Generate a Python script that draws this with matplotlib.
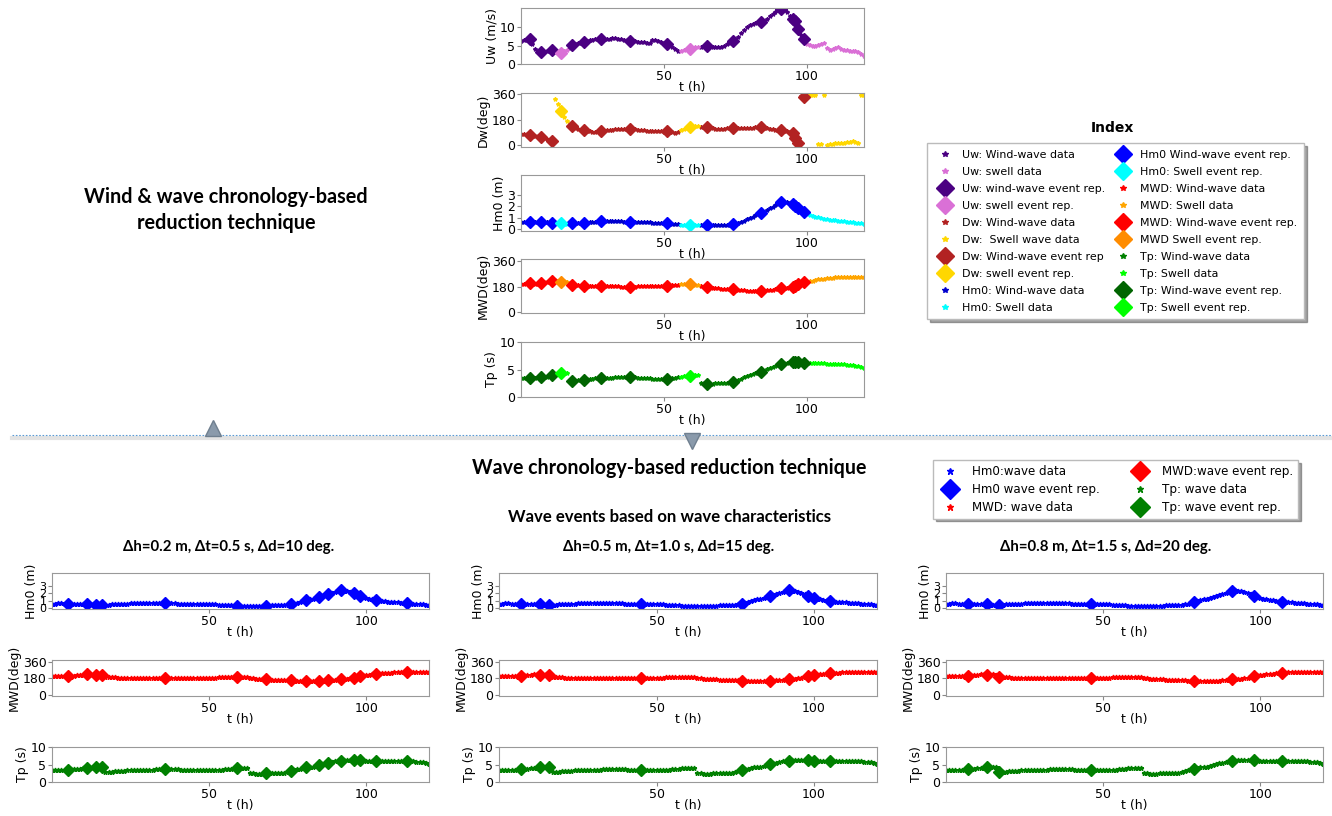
import numpy as np
import matplotlib.pyplot as plt
from matplotlib.lines import Line2D

# hourly series (t = 0 .. 120 h)
hours = np.arange(121)

uw = [6.3, 6.5, 6.6, 6.7, 5.4, 4.2, 3.5, 3.2, 3.2, 3.4,
      3.6, 3.7, 3.2, 2.9, 2.9, 3.4, 3.9, 4.4, 5.2, 5.5,
      5.6, 5.8, 6.0, 6.2, 6.4, 6.6, 6.8, 6.9, 6.9, 6.8,
      6.8, 6.9, 7.0, 7.0, 6.9, 6.8, 6.6, 6.5, 6.3, 6.2,
      6.2, 6.1, 6.0, 5.9, 5.8, 5.7, 6.5, 6.4, 6.2, 6.0,
      5.7, 5.5, 5.1, 4.6, 4.0, 3.6, 3.6, 3.9, 4.2, 4.1,
      4.3, 4.5, 4.6, 4.7, 4.9, 5.0, 4.9, 4.7, 4.5, 4.5,
      4.6, 4.9, 5.3, 5.8, 6.2, 6.6, 7.4, 8.3, 9.2, 10.0,
      10.6, 10.9, 11.1, 11.3, 11.4, 11.8, 12.3, 12.9, 13.5, 14.1,
      14.6, 14.9, 14.8, 14.2, 13.0, 12.1, 11.6, 9.5, 8.0, 6.8,
      5.3, 5.1, 5.0, 4.9, 5.1, 5.4, 5.6, 4.4, 3.9, 4.1,
      4.4, 4.5, 4.2, 3.9, 3.7, 3.6, 3.5, 3.4, 3.2, 2.8,
      2.2]

dw = [80, 78, 75, 72, 66, 62, 64, 57, 48, 40,
      34, 30, 330, 290, 239, 200, 170, 150, 133, 122,
      113, 108, 104, 100, 98, 96, 96, 97, 98, 102,
      106, 108, 110, 111, 112, 112, 113, 114, 114, 112,
      111, 109, 107, 104, 101, 99, 97, 97, 98, 97,
      96, 97, 94, 90, 88, 95, 104, 113, 120, 126,
      130, 132, 133, 131, 129, 128, 126, 120, 115, 113,
      115, 117, 119, 120, 121, 121, 119, 118, 119, 120,
      122, 124, 125, 126, 126, 124, 121, 117, 112, 108,
      105, 104, 102, 98, 95, 85, 50, 12, 348, 339,
      352, 356, 358, 357, 4, 6, 357, 3, 8, 10,
      13, 15, 14, 18, 22, 25, 27, 22, 15, 356,
      355]

hm0 = [0.62, 0.63, 0.64, 0.64, 0.63, 0.62, 0.62, 0.63, 0.63, 0.61,
       0.59, 0.58, 0.55, 0.52, 0.50, 0.49, 0.49, 0.50, 0.50, 0.51,
       0.51, 0.52, 0.53, 0.56, 0.60, 0.64, 0.67, 0.69, 0.70, 0.70,
       0.70, 0.70, 0.70, 0.69, 0.68, 0.68, 0.67, 0.66, 0.65, 0.64,
       0.63, 0.62, 0.61, 0.60, 0.59, 0.59, 0.58, 0.58, 0.57, 0.56,
       0.55, 0.55, 0.52, 0.48, 0.45, 0.42, 0.40, 0.38, 0.36, 0.35,
       0.35, 0.34, 0.34, 0.34, 0.34, 0.35, 0.35, 0.35, 0.35, 0.36,
       0.37, 0.38, 0.39, 0.41, 0.43, 0.46, 0.52, 0.62, 0.75, 0.88,
       1.00, 1.10, 1.20, 1.30, 1.38, 1.50, 1.65, 1.80, 1.95, 2.10,
       2.22, 2.32, 2.38, 2.35, 2.28, 2.15, 2.00, 1.85, 1.68, 1.50,
       1.35, 1.25, 1.17, 1.10, 1.04, 0.98, 0.93, 0.88, 0.84, 0.80,
       0.77, 0.74, 0.71, 0.68, 0.65, 0.62, 0.59, 0.56, 0.53, 0.50,
       0.47]

mwd = [200, 201, 202, 203, 203, 200, 198, 205, 210, 214,
       218, 222, 224, 220, 215, 222, 212, 198, 191, 189,
       188, 187, 186, 186, 185, 185, 185, 186, 186, 186,
       185, 184, 183, 182, 181, 180, 179, 179, 179, 179,
       180, 181, 182, 183, 184, 185, 186, 186, 186, 186,
       186, 186, 187, 189, 191, 194, 196, 197, 196, 196,
       195, 192, 188, 184, 180, 177, 175, 173, 170, 168,
       166, 164, 163, 162, 161, 160, 158, 155, 153, 152,
       152, 151, 151, 151, 152, 152, 153, 155, 158, 161,
       164, 167, 170, 173, 176, 179, 186, 196, 203, 210,
       214, 218, 222, 226, 230, 234, 237, 240, 242, 244,
       245, 246, 247, 248, 249, 250, 250, 251, 251, 251,
       251]

tp = [3.5, 3.5, 3.4, 3.4, 3.4, 3.5, 3.6, 3.6, 3.6, 3.7,
      3.9, 4.0, 4.1, 4.2, 4.3, 4.3, 4.3, 3.0, 3.0, 3.0,
      3.1, 3.1, 3.15, 3.2, 3.3, 3.3, 3.4, 3.4, 3.45, 3.5,
      3.5, 3.5, 3.5, 3.6, 3.6, 3.6, 3.6, 3.6, 3.6, 3.6,
      3.6, 3.5, 3.5, 3.4, 3.4, 3.4, 3.3, 3.3, 3.3, 3.3,
      3.3, 3.3, 3.3, 3.4, 3.5, 3.6, 3.7, 3.8, 3.9, 3.9,
      4.0, 4.0, 4.0, 2.5, 2.5, 2.4, 2.4, 2.4, 2.5, 2.5,
      2.5, 2.6, 2.6, 2.7, 2.7, 2.9, 3.1, 3.3, 3.6, 3.8,
      4.0, 4.2, 4.3, 4.4, 4.5, 4.8, 5.1, 5.3, 5.5, 5.7,
      5.9, 6.0, 6.1, 6.2, 6.3, 6.3, 6.3, 6.3, 6.2, 6.2,
      6.1, 6.1, 6.1, 6.1, 6.1, 6.1, 6.1, 6.0, 6.0, 6.0,
      6.0, 6.0, 6.0, 6.0, 5.9, 5.9, 5.8, 5.7, 5.6, 5.4,
      5.2]

# hours classified as swell (start, end inclusive)
swell_spans = [(12, 16), (56, 62), (100, 120)]

# event representative hours
events_wind_wave = [3, 7, 11, 14, 18, 22, 28, 38, 51, 59, 65, 74, 84, 91, 95, 96, 97, 99]
events_dh02 = [5, 11, 14, 16, 36, 59, 68, 76, 81, 85, 88, 92, 96, 98, 103, 113]
events_dh05 = [7, 13, 16, 45, 77, 86, 92, 98, 100, 105]
events_dh08 = [7, 13, 17, 46, 79, 91, 98, 107]

threshold_titles = ['Δh=0.2 m, Δt=0.5 s, Δd=10 deg.',
                    'Δh=0.5 m, Δt=1.0 s, Δd=15 deg.',
                    'Δh=0.8 m, Δt=1.5 s, Δd=20 deg.']

W, H = 1332, 816
fig = plt.figure(figsize=(W / 100, H / 100), dpi=100)
TITLE_FONT = ['Lato', 'Noto Sans', 'DejaVu Sans']


def px_axes(x0, y0, x1, y1):
    return fig.add_axes([x0 / W, 1 - y1 / H, (x1 - x0) / W, (y1 - y0) / H])


def style_axes(ax, ylabel, ylim, yticks, ytick_size=9):
    ax.set_xlim(0, 120)
    ax.set_xticks([50, 100])
    ax.set_ylim(*ylim)
    ax.set_yticks(yticks)
    ax.set_xlabel('t (h)', fontsize=9, labelpad=-1)
    ax.set_ylabel(ylabel, fontsize=9, labelpad=1)
    ax.tick_params(labelsize=9, length=3, pad=1, color='#888888')
    ax.tick_params(axis='y', labelsize=ytick_size)
    for sp in ax.spines.values():
        sp.set_color('#999999')


t = hours
is_swell = np.zeros(len(t), dtype=bool)
for a, b in swell_spans:
    is_swell[(t >= a) & (t <= b)] = True

ev = np.array(events_wind_wave)
ev_swell = is_swell[ev]

# ---- upper block: wind & wave chronology ----
top_vars = [
    (uw, 'Uw (m/s)', (0, 15.2), [0, 5, 10], '#4b0082', 'orchid', '#4b0082', 'orchid', (8, 64)),
    (dw, 'Dw(deg)', (-14, 370), [0, 180, 360], 'firebrick', 'gold', 'firebrick', 'gold', (93, 147)),
    (hm0, 'Hm0 (m)', (-0.15, 4.7), [0, 1, 2, 3], 'mediumblue', 'cyan', 'blue', 'cyan', (175, 231)),
    (mwd, 'MWD(deg)', (-7, 375), [0, 180, 360], 'red', 'orange', 'red', 'darkorange', (259, 313)),
    (tp, 'Tp (s)', (0, 10), [0, 5, 10], 'green', 'lime', 'darkgreen', 'lime', (342, 397)),
]

for vals, ylab, ylim, yt, c_w, c_s, ce_w, ce_s, (y0, y1) in top_vars:
    v = np.array(vals, dtype=float)
    ax = px_axes(521, y0, 864, y1)
    ax.plot(t[~is_swell], v[~is_swell], ls='none', marker='*', ms=3, color=c_w)
    ax.plot(t[is_swell], v[is_swell], ls='none', marker='*', ms=3, color=c_s)
    ax.plot(ev[~ev_swell], v[ev[~ev_swell]], ls='none', marker='D', ms=6.5, color=ce_w)
    ax.plot(ev[ev_swell], v[ev[ev_swell]], ls='none', marker='D', ms=6.5, color=ce_s)
    style_axes(ax, ylab, ylim, yt)

fig.text(226 / W, 1 - 210 / H, 'Wind & wave chronology-based\nreduction technique',
         ha='center', va='center', fontsize=14.3, fontweight='bold',
         family=TITLE_FONT, linespacing=1.4)

# legend of the upper block
def data_h(c):
    return Line2D([], [], ls='none', marker='*', ms=4, color=c)


def event_h(c):
    return Line2D([], [], ls='none', marker='D', ms=9, color=c)


index_items = [
    (data_h('#4b0082'), 'Uw: Wind-wave data'),
    (data_h('orchid'), 'Uw: swell data'),
    (event_h('#4b0082'), 'Uw: wind-wave event rep.'),
    (event_h('orchid'), 'Uw: swell event rep.'),
    (data_h('firebrick'), 'Dw: Wind-wave data'),
    (data_h('gold'), 'Dw:  Swell wave data'),
    (event_h('firebrick'), 'Dw: Wind-wave event rep'),
    (event_h('gold'), 'Dw: swell event rep.'),
    (data_h('mediumblue'), 'Hm0: Wind-wave data'),
    (data_h('cyan'), 'Hm0: Swell data'),
    (event_h('blue'), 'Hm0 Wind-wave event rep.'),
    (event_h('cyan'), 'Hm0: Swell event rep.'),
    (data_h('red'), 'MWD: Wind-wave data'),
    (data_h('orange'), 'MWD: Swell data'),
    (event_h('red'), 'MWD: Wind-wave event rep.'),
    (event_h('darkorange'), 'MWD Swell event rep.'),
    (data_h('green'), 'Tp: Wind-wave data'),
    (data_h('lime'), 'Tp: Swell data'),
    (event_h('darkgreen'), 'Tp: Wind-wave event rep.'),
    (event_h('lime'), 'Tp: Swell event rep.'),
]
fig.legend([h for h, _ in index_items], [l for _, l in index_items],
           loc='upper left', bbox_to_anchor=(927 / W, 1 - 143 / H),
           ncol=2, fontsize=7.9, shadow=True, fancybox=False,
           borderaxespad=0, borderpad=0.6, labelspacing=0.64, columnspacing=0.6,
           handletextpad=0.6, handlelength=2.0, edgecolor='#bbbbbb')
fig.text(1112 / W, 1 - 128 / H, 'Index', ha='center', va='center',
         fontsize=10, fontweight='bold')

# divider between the two blocks
fig.add_artist(Line2D([12 / W, 1], [1 - 437.5 / H] * 2, transform=fig.transFigure,
                      color='#e3e3e3', lw=3))
fig.add_artist(Line2D([12 / W, 1], [1 - 435 / H] * 2, transform=fig.transFigure,
                      color='#5b9bd5', lw=0.8, ls=(0, (1.5, 1.5))))
fig.add_artist(Line2D([213 / W], [1 - 428 / H], transform=fig.transFigure,
                      marker='^', ms=12, color='#8a9aab', mec='#6f7f8f'))
fig.add_artist(Line2D([692 / W], [1 - 441 / H], transform=fig.transFigure,
                      marker='v', ms=12, color='#8a9aab', mec='#6f7f8f'))

# ---- lower block: wave chronology ----
fig.text(669 / W, 1 - 468 / H, 'Wave chronology-based reduction technique',
         ha='center', va='center', fontsize=14.1, fontweight='bold', family=TITLE_FONT)
fig.text(670 / W, 1 - 517 / H, 'Wave events based on wave characteristics',
         ha='center', va='center', fontsize=12.1, fontweight='bold', family=TITLE_FONT)

wave_items = [
    (Line2D([], [], ls='none', marker='*', ms=5, color='blue'), 'Hm0:wave data'),
    (Line2D([], [], ls='none', marker='D', ms=10, color='blue'), 'Hm0 wave event rep.'),
    (Line2D([], [], ls='none', marker='*', ms=5, color='red'), 'MWD: wave data'),
    (Line2D([], [], ls='none', marker='D', ms=10, color='red'), 'MWD:wave event rep.'),
    (Line2D([], [], ls='none', marker='*', ms=5, color='green'), 'Tp: wave data'),
    (Line2D([], [], ls='none', marker='D', ms=10, color='green'), 'Tp: wave event rep.'),
]
fig.legend([h for h, _ in wave_items], [l for _, l in wave_items],
           loc='upper left', bbox_to_anchor=(933 / W, 1 - 460 / H),
           ncol=2, fontsize=8.6, shadow=True, fancybox=False,
           borderaxespad=0, labelspacing=0.42, columnspacing=2.3,
           handletextpad=0.9, handlelength=2.0, edgecolor='#bbbbbb')

panel_x = [(52, 429), (499, 877), (946, 1323)]
title_x = [229, 669, 1106]
panel_events = [events_dh02, events_dh05, events_dh08]
bottom_vars = [
    (hm0, 'Hm0 (m)', (-0.1, 4.7), [0, 1, 2, 3], 'blue', (573, 609), 8),
    (mwd, 'MWD(deg)', (-15, 380), [0, 180, 360], 'red', (660, 696), 9),
    (tp, 'Tp (s)', (0, 10), [0, 5, 10], 'green', (747, 782), 9),
]

for (x0, x1), tx, evs, title in zip(panel_x, title_x, panel_events, threshold_titles):
    fig.text(tx / W, 1 - 547 / H, title, ha='center', va='center',
             fontsize=10.8, fontweight='bold', family=TITLE_FONT)
    e = np.array(evs)
    for vals, ylab, ylim, yt, col, (y0, y1), yts in bottom_vars:
        v = np.array(vals, dtype=float)
        ax = px_axes(x0, y0, x1, y1)
        ax.plot(t, v, ls='none', marker='*', ms=3.5, color=col)
        ax.plot(e, v[e], ls='none', marker='D', ms=6.5, color=col)
        style_axes(ax, ylab, ylim, yt, ytick_size=yts)

fig.savefig('out.png', dpi=100)
